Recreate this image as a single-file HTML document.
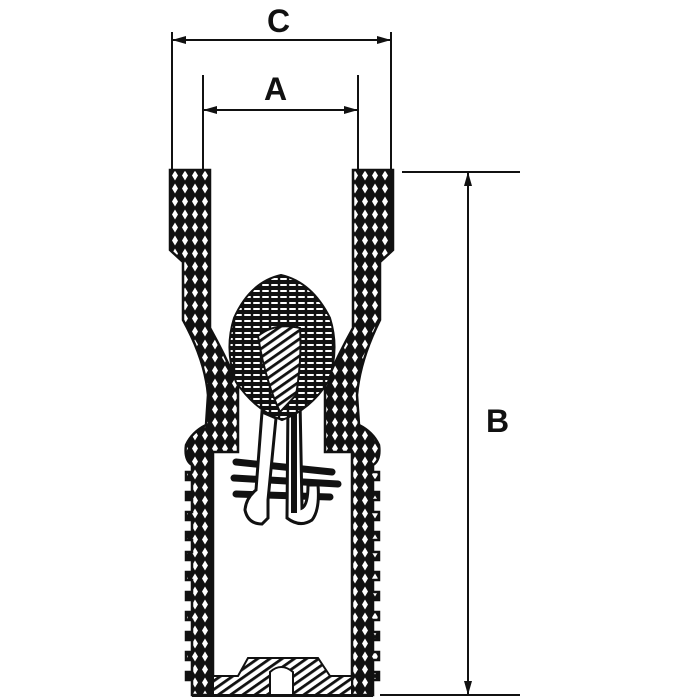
<!DOCTYPE html>
<html><head><meta charset="utf-8"><style>html,body{margin:0;padding:0;background:#fff}svg{display:block}</style></head>
<body>
<svg width="700" height="700" viewBox="0 0 700 700" xmlns="http://www.w3.org/2000/svg">
<defs>
<pattern id="x" width="10" height="13" patternUnits="userSpaceOnUse">
<rect width="10" height="13" fill="#111"/>
<polygon points="5,1.5 8,6.5 5,11.5 2,6.5" fill="#fff"/>
</pattern>
<pattern id="h" width="9" height="6" patternUnits="userSpaceOnUse">
<rect width="9" height="6" fill="#111"/>
<rect x="1" y="2" width="7" height="2" fill="#fff" rx="1"/>
</pattern>
<pattern id="d" width="7" height="7" patternUnits="userSpaceOnUse" patternTransform="rotate(-35)">
<rect width="7" height="7" fill="#fff"/>
<rect width="7" height="2.8" fill="#111"/>
</pattern>
</defs>
<g stroke="#111" stroke-width="2" fill="none">
<line x1="172" y1="32" x2="172" y2="170"/><line x1="391" y1="32" x2="391" y2="170"/>
<line x1="172" y1="40" x2="391" y2="40"/>
<line x1="203" y1="75" x2="203" y2="170"/><line x1="358" y1="75" x2="358" y2="170"/>
<line x1="203" y1="110" x2="358" y2="110"/>
<line x1="402" y1="172" x2="520" y2="172"/><line x1="380" y1="695" x2="520" y2="695"/>
<line x1="468" y1="172" x2="468" y2="695"/>
</g>
<g fill="#111">
<polygon points="172,40 186,36 186,44"/><polygon points="391,40 377,36 377,44"/>
<polygon points="203,110 217,106 217,114"/><polygon points="358,110 344,106 344,114"/>
<polygon points="468,172 464,186 472,186"/><polygon points="468,695 464,681 472,681"/>
</g>
<g font-family="Liberation Sans, sans-serif" font-weight="bold" font-size="32" fill="#111">
<text x="267" y="32">C</text><text x="264" y="100">A</text><text x="486" y="432">B</text>
</g>
<g fill="url(#x)" stroke="#111" stroke-width="2.5">
<path d="M170,170 L210,170 L210,328 Q225,355 238,385 L238,452 L213,452 L213,695 L192,695 L192,680 L186,680 L186,672 L192,672 L192,660 L186,660 L186,652 L192,652 L192,640 L186,640 L186,632 L192,632 L192,620 L186,620 L186,612 L192,612 L192,600 L186,600 L186,592 L192,592 L192,580 L186,580 L186,572 L192,572 L192,560 L186,560 L186,552 L192,552 L192,540 L186,540 L186,532 L192,532 L192,520 L186,520 L186,512 L192,512 L192,500 L186,500 L186,492 L192,492 L192,480 L186,480 L186,472 L192,472 L192,465 Q184,460 186,445 Q192,432 206,425 L208,395 Q205,360 183,320 L183,262 L170,250 Z"/>
<path d="M393,170 L353,170 L353,328 Q338,355 325,385 L325,452 L352,452 L352,695 L373,695 L373,680 L379,680 L379,672 L373,672 L373,660 L379,660 L379,652 L373,652 L373,640 L379,640 L379,632 L373,632 L373,620 L379,620 L379,612 L373,612 L373,600 L379,600 L379,592 L373,592 L373,580 L379,580 L379,572 L373,572 L373,560 L379,560 L379,552 L373,552 L373,540 L379,540 L379,532 L373,532 L373,520 L379,520 L379,512 L373,512 L373,500 L379,500 L379,492 L373,492 L373,480 L379,480 L379,472 L373,472 L373,465 Q381,460 379,445 Q373,432 359,425 L357,395 Q360,360 380,320 L380,262 L393,250 Z"/>
</g>
<path d="M213,695 L213,676 L238,676 L248,658 L318,658 L330,676 L352,676 L352,695 Z M270,695 L270,672 Q281,662 293,672 L293,695 Z" fill="url(#d)" fill-rule="evenodd" stroke="#111" stroke-width="2"/>
<line x1="192" y1="696" x2="373" y2="696" stroke="#111" stroke-width="2"/>
<!-- spring coils (behind stem) -->
<g stroke="#111" stroke-width="7" fill="none" stroke-linecap="round">
<path d="M236,462 L332,472"/>
<path d="M234,478 L338,484"/>
<path d="M236,494 L330,497"/>
</g>
<!-- stems -->
<path d="M262,412 L256,490 Q246,498 245,510 Q248,524 262,524 L268,518 L268,500 L276,418 Z" fill="#fff" stroke="#111" stroke-width="3"/>
<path d="M288,400 L287,518 Q300,528 312,520 Q320,510 318,485 L308,485 Q308,505 302,508 L300,400 Z" fill="#fff" stroke="#111" stroke-width="3"/>
<rect x="291" y="405" width="6" height="108" fill="#111"/>
<!-- poppet -->
<path d="M281,275 Q312,282 330,318 Q340,350 328,382 Q310,410 282,420 Q255,410 236,382 Q224,350 234,318 Q250,282 281,275 Z" fill="url(#h)" stroke="#111" stroke-width="2"/>
<path d="M258,336 Q275,322 300,328 Q302,360 296,395 L280,412 Q265,380 258,336 Z" fill="url(#d)" stroke="#111" stroke-width="2"/>
</svg>
</body></html>
